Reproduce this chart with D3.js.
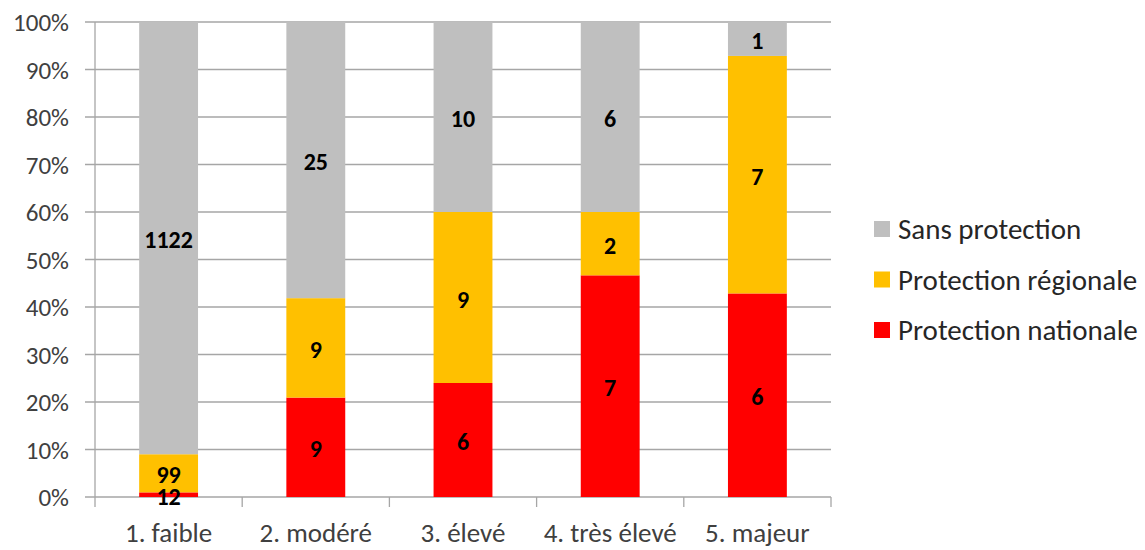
<!DOCTYPE html>
<html><head><meta charset="utf-8">
<script src="https://cdn.jsdelivr.net/npm/d3@7"></script>
<style>body{margin:0;background:#fff}svg{display:block}</style>
</head><body>
<svg id="c" width="1145" height="550"></svg>
<script>
const categories = ["1. faible","2. modéré","3. élevé","4. très élevé","5. majeur"];
const seriesNames = ["Protection nationale","Protection régionale","Sans protection"];
const nationale = [12, 9, 6, 7, 6];
const regionale = [99, 9, 9, 2, 7];
const sans = [1122, 25, 10, 6, 1];
const colors = ["#FF0000","#FFC000","#BFBFBF"];
const yTicks = [0,0.1,0.2,0.3,0.4,0.5,0.6,0.7,0.8,0.9,1];

const svg = d3.select("#c");
const font = "Carlito, Calibri, Lato, 'Open Sans', sans-serif";
const L = 95, R = 831, T = 22, B = 497;
const x = d3.scaleBand().domain(categories).range([L, R]).paddingInner(0.6).paddingOuter(0.3);
const y = d3.scaleLinear().domain([0,1]).range([B, T]);

const rows = categories.map((c,i)=>({cat:c, "Protection nationale":nationale[i], "Protection régionale":regionale[i], "Sans protection":sans[i]}));
const stack = d3.stack().keys(seriesNames).offset(d3.stackOffsetExpand);
const layers = stack(rows);

// gridlines
svg.append("g").selectAll("line").data(yTicks).join("line")
  .attr("x1", L-10).attr("x2", R).attr("y1", d=>y(d)).attr("y2", d=>y(d))
  .attr("stroke", "#A6A6A6").attr("stroke-width", 1.3);
// y axis line
svg.append("line").attr("x1",L).attr("x2",L).attr("y1",T).attr("y2",B+10).attr("stroke","#A6A6A6").attr("stroke-width",1.3);
// category ticks
const bounds = d3.range(categories.length+1).map(i=>L + i*(R-L)/categories.length);
svg.append("g").selectAll("line").data(bounds.slice(1)).join("line")
  .attr("x1",d=>d).attr("x2",d=>d).attr("y1",B).attr("y2",B+10).attr("stroke","#A6A6A6").attr("stroke-width",1.3);

// bars
const g = svg.append("g");
layers.forEach((layer, li)=>{
  g.append("g").selectAll("rect").data(layer).join("rect")
    .attr("x", d=>x(d.data.cat)).attr("width", x.bandwidth())
    .attr("y", d=>y(d[1])).attr("height", d=>y(d[0])-y(d[1]))
    .attr("fill", colors[li]);
});
// labels
layers.forEach((layer, li)=>{
  g.append("g").selectAll("text").data(layer).join("text")
    .attr("x", d=>x(d.data.cat)+x.bandwidth()/2)
    .attr("y", d=>(y(d[0])+y(d[1]))/2 + 1.5)
    .attr("dy","0.36em")
    .attr("text-anchor","middle")
    .attr("font-family", font).attr("font-weight","bold").attr("font-size", 24)
    .attr("fill","#000")
    .text(d=>d.data[layer.key]);
});

// y tick labels
svg.append("g").selectAll("text").data(yTicks).join("text")
  .attr("x", 69).attr("y", d=>y(d)).attr("dy","0.36em").attr("text-anchor","end")
  .attr("font-family", font).attr("font-size", 25).attr("fill","#404040")
  .text(d=>d3.format(".0%")(d));
// x labels
svg.append("g").selectAll("text").data(categories).join("text")
  .attr("x", d=>x(d)+x.bandwidth()/2).attr("y", 542).attr("text-anchor","middle")
  .attr("font-family", font).attr("font-size", 27).attr("fill","#404040")
  .text(d=>d);

// legend
const legendOrder = [2,1,0];
const lg = svg.append("g");
legendOrder.forEach((si, k)=>{
  const yy = 229 + k*50.5;
  lg.append("rect").attr("x", 874).attr("y", yy-8).attr("width", 16).attr("height", 16).attr("fill", colors[si]);
  lg.append("text").attr("x", 898).attr("y", yy).attr("dy","0.36em")
    .attr("font-family", font).attr("font-size", 29).attr("fill","#262626").text(seriesNames[si]);
});
</script>
</body></html>
